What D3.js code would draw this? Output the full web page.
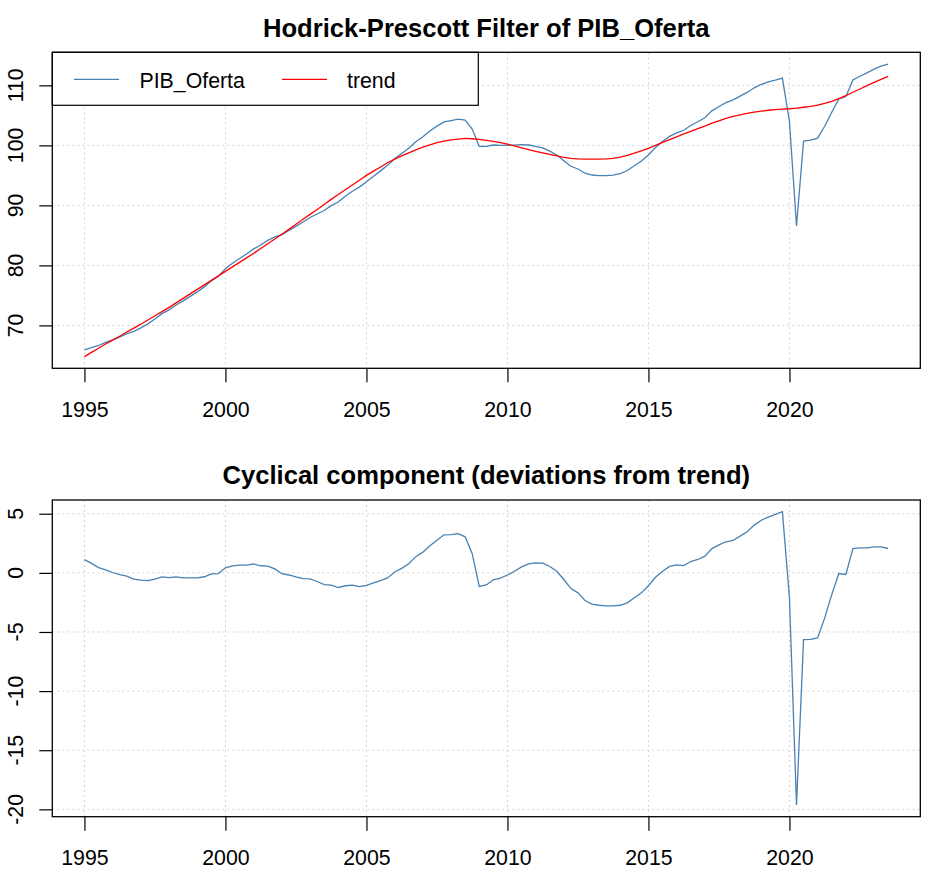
<!DOCTYPE html>
<html>
<head>
<meta charset="utf-8">
<title>Hodrick-Prescott Filter of PIB_Oferta</title>
<script src="https://d3js.org/d3.v7.min.js"></script>
<style>
    body {
        margin: 0;
        background-color: #FFFFFF;
    }
    svg {
        display: block;
        font-family: "Liberation Sans", Arial, sans-serif;
    }
    .grid line {
        stroke: #D3D3D3;
        stroke-width: 1px;
        stroke-dasharray: 2, 3;
    }
    .tick line {
        stroke: #000000;
        stroke-width: 1.2px;
    }
</style>
</head>
<body>
<div id="chart"></div>
<script>
    // Quarterly time index (ts, frequency 4)
    var quarters = [
        1995, 1995.25, 1995.5, 1995.75,
        1996, 1996.25, 1996.5, 1996.75,
        1997, 1997.25, 1997.5, 1997.75,
        1998, 1998.25, 1998.5, 1998.75,
        1999, 1999.25, 1999.5, 1999.75,
        2000, 2000.25, 2000.5, 2000.75,
        2001, 2001.25, 2001.5, 2001.75,
        2002, 2002.25, 2002.5, 2002.75,
        2003, 2003.25, 2003.5, 2003.75,
        2004, 2004.25, 2004.5, 2004.75,
        2005, 2005.25, 2005.5, 2005.75,
        2006, 2006.25, 2006.5, 2006.75,
        2007, 2007.25, 2007.5, 2007.75,
        2008, 2008.25, 2008.5, 2008.75,
        2009, 2009.25, 2009.5, 2009.75,
        2010, 2010.25, 2010.5, 2010.75,
        2011, 2011.25, 2011.5, 2011.75,
        2012, 2012.25, 2012.5, 2012.75,
        2013, 2013.25, 2013.5, 2013.75,
        2014, 2014.25, 2014.5, 2014.75,
        2015, 2015.25, 2015.5, 2015.75,
        2016, 2016.25, 2016.5, 2016.75,
        2017, 2017.25, 2017.5, 2017.75,
        2018, 2018.25, 2018.5, 2018.75,
        2019, 2019.25, 2019.5, 2019.75,
        2020, 2020.25, 2020.5, 2020.75,
        2021, 2021.25, 2021.5, 2021.75,
        2022, 2022.25, 2022.5, 2022.75,
        2023, 2023.25, 2023.5
    ];

    // PIB_Oferta (original series)
    var pibOferta = [
        65.92, 66.30, 66.65, 67.16,
        67.58, 68.06, 68.63, 69.02,
        69.59, 70.25, 71.07, 71.96,
        72.59, 73.41, 74.08, 74.83,
        75.58, 76.42, 77.42, 78.19,
        79.43, 80.35, 81.16, 81.91,
        82.75, 83.40, 84.17, 84.74,
        85.13, 85.82, 86.51, 87.22,
        87.99, 88.57, 89.15, 89.96,
        90.56, 91.51, 92.36, 93.04,
        93.95, 94.86, 95.75, 96.67,
        97.77, 98.63, 99.52, 100.62,
        101.45, 102.40, 103.20, 103.92,
        104.14, 104.37, 104.20, 102.72,
        99.85, 99.83, 100.06, 100.00,
        100.02, 100.04, 100.11, 100.06,
        99.85, 99.57, 99.04, 98.39,
        97.44, 96.52, 96.06, 95.36,
        95.06, 94.96, 94.95, 95.05,
        95.31, 95.81, 96.60, 97.41,
        98.41, 99.63, 100.64, 101.49,
        102.08, 102.52, 103.31, 103.93,
        104.61, 105.75, 106.47, 107.13,
        107.59, 108.21, 108.82, 109.59,
        110.15, 110.57, 110.89, 111.22,
        104.00, 86.57, 100.70, 100.88,
        101.20, 103.19, 105.51, 107.74,
        108.16, 110.91, 111.52, 112.07,
        112.70, 113.20, 113.56
    ];

    // HP trend
    var trend = [
        64.8, 65.5, 66.2, 66.9,
        67.55, 68.2, 68.9, 69.55,
        70.2, 70.9, 71.6, 72.3,
        73.0, 73.75, 74.5, 75.25,
        76.0, 76.75, 77.5, 78.25,
        79.0, 79.75, 80.5, 81.25,
        82.0, 82.8, 83.6, 84.4,
        85.2, 86.0, 86.85, 87.7,
        88.5, 89.3, 90.15, 91.0,
        91.8, 92.6, 93.4, 94.2,
        95.0, 95.7, 96.4, 97.1,
        97.7, 98.25, 98.75, 99.25,
        99.7, 100.1, 100.45, 100.7,
        100.9, 101.05, 101.15, 101.1,
        101.0, 100.85, 100.65, 100.45,
        100.2, 99.9, 99.6, 99.3,
        99.0, 98.75, 98.5, 98.25,
        98.0, 97.85, 97.75, 97.7,
        97.7, 97.7, 97.75, 97.85,
        98.05, 98.35, 98.7, 99.1,
        99.5, 100.0, 100.5, 100.95,
        101.4, 101.9, 102.35, 102.8,
        103.2, 103.7, 104.1, 104.5,
        104.85, 105.1, 105.35, 105.55,
        105.7, 105.85, 105.95, 106.05,
        106.1, 106.2, 106.35, 106.5,
        106.7, 107.0, 107.35, 107.8,
        108.3, 108.85, 109.4, 109.95,
        110.5, 111.0, 111.5
    ];

    // Cyclical component
    var cycle = [
        1.12, 0.80, 0.45, 0.26,
        0.03, -0.14, -0.27, -0.53,
        -0.61, -0.65, -0.53, -0.34,
        -0.41, -0.34, -0.42, -0.42,
        -0.42, -0.33, -0.08, -0.06,
        0.43, 0.60, 0.66, 0.66,
        0.75, 0.60, 0.57, 0.34,
        -0.07, -0.18, -0.34, -0.48,
        -0.51, -0.73, -1.00, -1.04,
        -1.24, -1.09, -1.04, -1.16,
        -1.05, -0.84, -0.65, -0.43,
        0.07, 0.38, 0.77, 1.37,
        1.75, 2.30, 2.75, 3.22,
        3.24, 3.32, 3.05, 1.62,
        -1.15, -1.02, -0.59, -0.45,
        -0.18, 0.14, 0.51, 0.76,
        0.85, 0.82, 0.54, 0.14,
        -0.56, -1.33, -1.69, -2.34,
        -2.64, -2.74, -2.80, -2.80,
        -2.74, -2.54, -2.10, -1.69,
        -1.09, -0.37, 0.14, 0.54,
        0.68, 0.62, 0.96, 1.13,
        1.41, 2.05, 2.37, 2.63,
        2.74, 3.11, 3.47, 4.04,
        4.45, 4.72, 4.94, 5.17,
        -2.10, -19.63, -5.65, -5.62,
        -5.50, -3.81, -1.84, -0.06,
        -0.14, 2.06, 2.12, 2.12,
        2.20, 2.20, 2.06
    ];

    var xTicks = [1995, 2000, 2005, 2010, 2015, 2020];
    var topTicks = [70, 80, 90, 100, 110];
    var bottomTicks = [-20, -15, -10, -5, 0, 5];
    var legendLabels = ["PIB_Oferta", "trend"];

    var width = 947, height = 896;
    var left = 52.3, right = 920.3;
    var baseFont = 21.3;

    var svg = d3.select("#chart")
        .append("svg")
        .attr("width", width)
        .attr("height", height);

    // R style axis range: data extent plus 4% on each side
    function padded(ext) {
        var r = ext[1] - ext[0];
        return [ext[0] - 0.04 * r, ext[1] + 0.04 * r];
    }

    var x = d3.scaleLinear()
        .domain(padded(d3.extent(quarters)))
        .range([left, right]);

    function drawPanel(top, bottom, title, series, yTicks, withLegend) {
        var allValues = [].concat.apply([], series.map(function (s) { return s.values; }));
        var y = d3.scaleLinear()
            .domain(padded(d3.extent(allValues)))
            .range([bottom, top]);

        var g = svg.append("g");

        // Grid
        var grid = g.append("g").attr("class", "grid");
        grid.selectAll(".gx")
            .data(xTicks)
            .join("line")
            .attr("x1", function (d) { return x(d); })
            .attr("x2", function (d) { return x(d); })
            .attr("y1", top)
            .attr("y2", bottom);
        grid.selectAll(".gy")
            .data(yTicks)
            .join("line")
            .attr("x1", left)
            .attr("x2", right)
            .attr("y1", function (d) { return y(d); })
            .attr("y2", function (d) { return y(d); });

        // Lines
        series.forEach(function (s) {
            g.append("path")
                .datum(s.values)
                .attr("fill", "none")
                .attr("stroke", s.color)
                .attr("stroke-width", 1.3)
                .attr("d", d3.line()
                    .x(function (d, i) { return x(quarters[i]); })
                    .y(function (d) { return y(d); }));
        });

        // Legend
        if (withLegend) {
            var lg = g.append("g");
            lg.append("rect")
                .attr("x", left)
                .attr("y", top)
                .attr("width", 426)
                .attr("height", 53)
                .attr("fill", "#FFFFFF")
                .attr("stroke", "#000000")
                .attr("stroke-width", 1.2);
            var items = [
                { label: legendLabels[0], color: series[0].color, x0: 74, text: 139.5 },
                { label: legendLabels[1], color: series[1].color, x0: 282, text: 347 }
            ];
            items.forEach(function (it) {
                lg.append("line")
                    .attr("x1", it.x0)
                    .attr("x2", it.x0 + 45)
                    .attr("y1", top + 27)
                    .attr("y2", top + 27)
                    .attr("stroke", it.color)
                    .attr("stroke-width", 1.3);
                lg.append("text")
                    .attr("x", it.text)
                    .attr("y", top + 36)
                    .style("font-size", baseFont + "px")
                    .text(it.label);
            });
        }

        // X axis
        var xAxis = g.append("g")
            .attr("transform", "translate(0," + bottom + ")")
            .call(d3.axisBottom(x).tickValues(xTicks).tickSize(14).tickPadding(19.3).tickFormat(d3.format("d")));
        xAxis.select(".domain").remove();
        xAxis.selectAll("text")
            .style("font-size", baseFont + "px")
            .style("font-family", "Liberation Sans, Arial, sans-serif")
            .attr("fill", "#000000");

        // Y axis (labels rotated like R's las = 0)
        var yAxis = g.append("g")
            .attr("transform", "translate(" + left + ",0)")
            .call(d3.axisLeft(y).tickValues(yTicks).tickSize(13).tickFormat(""));
        yAxis.select(".domain").remove();
        g.selectAll(".ylab")
            .data(yTicks)
            .join("text")
            .attr("transform", function (d) { return "translate(23.3," + y(d) + ") rotate(-90)"; })
            .attr("text-anchor", "middle")
            .style("font-size", baseFont + "px")
            .text(function (d) { return d; });

        // Box
        g.append("rect")
            .attr("x", left)
            .attr("y", top)
            .attr("width", right - left)
            .attr("height", bottom - top)
            .attr("fill", "none")
            .attr("stroke", "#000000")
            .attr("stroke-width", 1.3);

        // Title
        g.append("text")
            .attr("x", (left + right) / 2)
            .attr("y", top - 15.6)
            .attr("text-anchor", "middle")
            .style("font-size", "25.6px")
            .style("font-weight", "bold")
            .text(title);
    }

    drawPanel(52.3, 368.3, "Hodrick-Prescott Filter of PIB_Oferta",
        [{ values: pibOferta, color: "steelblue" }, { values: trend, color: "red" }],
        topTicks, true);

    drawPanel(500, 816.7, "Cyclical component (deviations from trend)",
        [{ values: cycle, color: "steelblue" }],
        bottomTicks, false);
</script>
</body>
</html>
